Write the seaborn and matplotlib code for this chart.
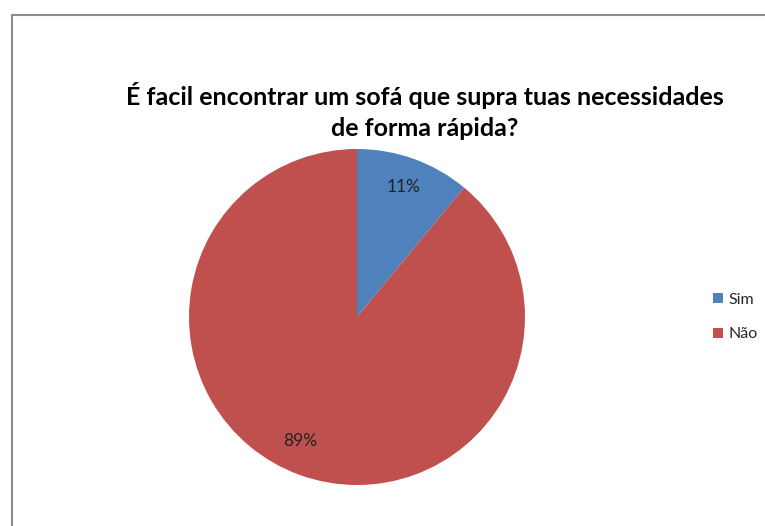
import matplotlib
matplotlib.use("Agg")
import matplotlib.pyplot as plt
import seaborn as sns
from matplotlib.patches import Rectangle

categories = ["Sim", "Não"]
values = [11, 89]
colors_hex = ["#4F81BD", "#C0504D"]
title = "É facil encontrar um sofá que supra tuas necessidades\nde forma rápida?"

sns.set_theme(style="white")
plt.rcParams['font.family'] = ['Lato', 'DejaVu Sans']
palette = sns.color_palette(colors_hex)

fig = plt.figure(figsize=(7.65, 5.26), dpi=100)
fig.patch.set_facecolor("white")

# chart border (gray, top & left visible)
fig.add_artist(Rectangle((12/765, -0.01), 1.0, (526-15)/526 + 0.01,
                         transform=fig.transFigure, fill=False,
                         edgecolor="#8c8c8c", linewidth=1.5))

ax = fig.add_axes([189/765, 41/526, 336/765, 336/526])
wedges, texts, autotexts = ax.pie(values, colors=palette, startangle=90,
                                  counterclock=False,
                                  autopct=lambda p: f"{p:.0f}%",
                                  pctdistance=0.82,
                                  wedgeprops=dict(linewidth=0),
                                  textprops=dict(fontsize=12.5, color="#222222"))
autotexts[1].set_position((-0.34, -0.74))
ax.set_xlim(-1, 1)
ax.set_ylim(-1, 1)
ax.set_aspect("equal")
ax.axis("off")

fig.text(425/765, 1 - 111/526, title, ha="center", va="center",
         fontsize=18, fontweight="bold", linespacing=1.45, color="black")

leg = fig.legend(wedges, categories, loc="center left",
                 bbox_to_anchor=(713/765, 1 - 317/526),
                 frameon=False, fontsize=11.5, handlelength=0.6,
                 handleheight=0.6, handletextpad=0.35, labelspacing=1.3,
                 borderpad=0, borderaxespad=0)

fig.savefig("out.png", dpi=100, facecolor="white")
